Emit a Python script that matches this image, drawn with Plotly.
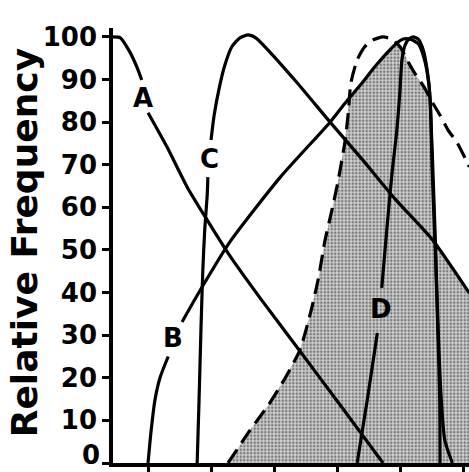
import plotly.graph_objects as go

# ---- data ----
a_x = [0.44, 0.56, 0.71, 0.83, 0.90, None, 1.00, 1.30, 1.62, 1.94, 2.30, 2.78, 3.41, 4.05, 4.73]
a_y = [100, 99.8, 96.5, 92.7, 89.9, None, 82.2, 74.2, 64.8, 57.0, 48.6, 38.7, 26.3, 13.6, 0]

b_x = [1.00, 1.05, 1.11, 1.19, 1.32, None, 1.54, 1.83, 2.30, 3.10, 3.89, 4.13, 4.37, 4.60, 4.79,
       4.95, 5.05, 5.16, 5.29, 5.38, 5.46, 5.51, 5.56, 5.60, 5.65, 5.71, 5.83]
b_y = [0, 7.7, 14.8, 20.0, 25.0, None, 33.1, 40.6, 51.9, 67.1, 80.0, 84.5, 88.7, 93.0, 96.2,
       98.6, 99.5, 99.5, 98.4, 95.1, 88.7, 73.5, 52.3, 33.6, 16.0, 5.4, 0]

c_x = [1.78, 1.81, 1.84, 1.87, 1.90, 1.94, 1.95, None, 2.00, 2.05, 2.13, 2.22, 2.33, 2.46, 2.59,
       2.71, 2.83, 3.37, 3.89, 4.41, 4.92, 5.52, 6.10]
c_y = [0, 14.8, 31.2, 45.3, 54.7, 63.0, 67.1, None, 75.8, 81.7, 88.0, 93.4, 97.7, 99.8, 100.5,
       99.8, 98.1, 89.2, 80.0, 71.1, 62.0, 52.3, 39.9]

d_x = [4.32, 4.48, 4.64, None, 4.71, 4.79, 4.87, 4.95, 5.00, 5.03, 5.08, 5.14, 5.21, 5.29, 5.37,
       5.43, 5.48, 5.51, 5.56, 5.60, 5.63, 5.635]
d_y = [0, 14.8, 30.5, None, 41.1, 54.7, 67.6, 78.2, 87.6, 94.6, 98.1, 99.5, 100, 99.5, 96.9,
       92.3, 85.2, 68.8, 50.0, 31.2, 14.8, 0]

e_x = [2.27, 2.62, 2.91, 3.18, 3.41, 3.57, 3.70, 3.81, 3.92, 4.02, 4.13, 4.18, 4.22, 4.32, 4.44,
       4.57, 4.73, 4.87, 5.00, 5.13, 5.25, 5.38, 5.52, 5.64, 5.76, 5.91, 6.10]
e_y = [0, 7.7, 13.6, 20.0, 26.5, 34.7, 43.0, 52.3, 59.4, 66.4, 75.8, 82.4, 89.2, 94.6, 97.7,
       99.3, 100, 99.5, 97.7, 94.1, 91.1, 88.3, 84.5, 81.5, 78.2, 75.1, 69.5]

shade_x = [2.27, 2.62, 2.91, 3.18, 3.41, 3.57, 3.70, 3.81, 3.92, 4.02, 4.13, 4.19, 4.37, 4.60,
           4.79, 4.95, 5.03, 5.13, 5.25, 5.38, 5.48, 5.51, 5.56, 5.79, 6.10, 6.10]
shade_y = [0, 7.7, 13.6, 20.0, 26.5, 34.7, 43.0, 52.3, 59.4, 66.4, 75.8, 85.2, 88.7, 93.0,
           96.2, 98.6, 97.4, 94.1, 91.1, 88.3, 85.7, 73.5, 52.3, 46.9, 39.9, 0]

y_ticks = [0, 10, 20, 30, 40, 50, 60, 70, 80, 90, 100]
x_ticks = [1, 2, 3, 4, 5, 6]

labels = ["A", "B", "C", "D"]
label_x = [0.92, 1.40, 1.98, 4.70]
label_y = [85.7, 29.3, 71.4, 36.2]

FONT = "DejaVu Sans"

# ---- figure ----
fig = go.Figure()

fig.add_trace(go.Scatter(
    x=shade_x, y=shade_y, mode="lines", fill="toself",
    line=dict(width=0, color="rgba(0,0,0,0)"),
    fillcolor="#c4c4c4",
    fillpattern=dict(shape=".", bgcolor="#cdcdcd", fgcolor="#222222", size=3.5, solidity=0.4),
    hoverinfo="skip", showlegend=False))

line_style = dict(color="black", width=3.2, shape="spline", smoothing=0.6)
for xs, ys in [(a_x, a_y), (b_x, b_y), (c_x, c_y), (d_x, d_y)]:
    fig.add_trace(go.Scatter(x=xs, y=ys, mode="lines", line=line_style,
                             connectgaps=False, showlegend=False, hoverinfo="skip"))

fig.add_trace(go.Scatter(x=e_x, y=e_y, mode="lines",
                         line=dict(color="black", width=3.2, dash="16px,8px", shape="spline", smoothing=0.6),
                         showlegend=False, hoverinfo="skip"))

for t, lx, ly in zip(labels, label_x, label_y):
    fig.add_annotation(x=lx, y=ly, text=t, showarrow=False,
                       font=dict(family=FONT, size=26, color="black", weight="bold"),
                       xanchor="center", yanchor="middle")

# bottom tick label "0" (kept fully inside the picture)
fig.add_annotation(xref="paper", yref="y", x=-0.034, y=y_ticks[0], text=str(y_ticks[0]),
                   showarrow=False, xanchor="right", yanchor="bottom", yshift=-8, borderpad=0,
                   font=dict(family=FONT, size=26, color="black", weight="bold"))

fig.add_annotation(xref="paper", yref="paper", x=-0.25, y=0.505, text="Relative Frequency",
                   textangle=-90, showarrow=False, xanchor="center", yanchor="middle",
                   font=dict(family=FONT, size=36, color="black", weight="bold"))

fig.update_layout(
    width=469, height=472,
    margin=dict(l=113, r=0, t=28, b=9),
    plot_bgcolor="white", paper_bgcolor="white",
    xaxis=dict(range=[0.444, 6.095], showgrid=False, zeroline=False, showline=True,
               linecolor="black", linewidth=3.5, ticks="outside", tickvals=x_ticks,
               ticklen=8, tickwidth=3, tickcolor="black", showticklabels=False),
    yaxis=dict(range=[0, 102.1], showgrid=False, zeroline=False, showline=True,
               linecolor="black", linewidth=3.5, ticks="outside", tickvals=y_ticks,
               ticklen=7, tickwidth=3, tickcolor="black",
               tickfont=dict(family=FONT, size=26, color="black", weight="bold")),
)

fig.write_html("out.html")
